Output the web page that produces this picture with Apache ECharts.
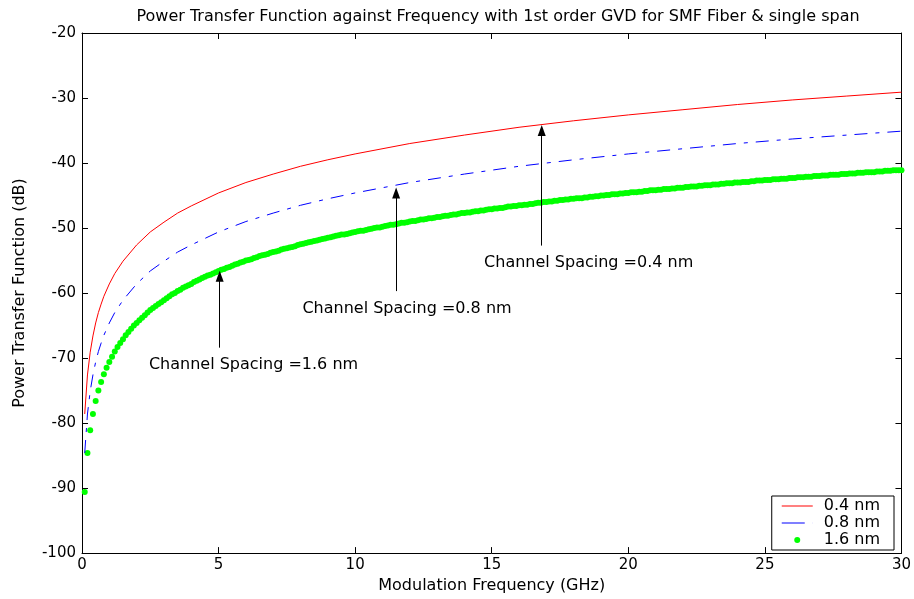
<!DOCTYPE html>
<html><head><meta charset="utf-8">
<script src="https://cdn.jsdelivr.net/npm/echarts@6/dist/echarts.min.js"></script>
<style>html,body{margin:0;padding:0;background:#fff}#c{width:914px;height:599px}</style>
</head><body><div id="c"></div>
<script>
const TITLE = 'Power Transfer Function against Frequency with 1st order GVD for SMF Fiber & single span';
const X_NAME = 'Modulation Frequency (GHz)';
const Y_NAME = 'Power Transfer Function (dB)';
const SERIES_NAMES = ['0.4 nm', '0.8 nm', '1.6 nm'];

// frequencies (GHz) sampled for the two line curves
const FREQ_LINES = [0.1,0.2,0.3,0.4,0.5,0.6,0.7,0.8,1.0,1.2,1.5,2,2.5,3,3.5,4,5,6,7,8,9,10,12,14,16,18,20,22,24,26,28,30];
const RED_04 = [-78.6,-72.6,-69.1,-66.6,-64.6,-63.0,-61.7,-60.5,-58.6,-57.0,-55.1,-52.6,-50.6,-49.1,-47.7,-46.6,-44.6,-43.0,-41.7,-40.5,-39.5,-38.6,-37.0,-35.7,-34.5,-33.5,-32.6,-31.8,-31.0,-30.3,-29.7,-29.1];
const BLUE_08 = [-84.6,-78.6,-75.1,-72.6,-70.6,-69.0,-67.7,-66.5,-64.6,-63.0,-61.1,-58.6,-56.6,-55.1,-53.7,-52.6,-50.6,-49.0,-47.7,-46.5,-45.5,-44.6,-43.0,-41.7,-40.5,-39.5,-38.6,-37.8,-37.0,-36.3,-35.7,-35.1];

// frequencies (GHz) of the dotted curve
const FREQ_DOTS = [
0.1,0.2,0.3,0.4,0.5,0.6,0.7,0.8,0.9,1.0,
1.1,1.2,1.3,1.4,1.5,1.6,1.7,1.8,1.9,2.0,
2.1,2.2,2.3,2.4,2.5,2.6,2.7,2.8,2.9,3.0,
3.1,3.2,3.3,3.4,3.5,3.6,3.7,3.8,3.9,4.0,
4.1,4.2,4.3,4.4,4.5,4.6,4.7,4.8,4.9,5.0,
5.1,5.2,5.3,5.4,5.5,5.6,5.7,5.8,5.9,6.0,
6.1,6.2,6.3,6.4,6.5,6.6,6.7,6.8,6.9,7.0,
7.1,7.2,7.3,7.4,7.5,7.6,7.7,7.8,7.9,8.0,
8.1,8.2,8.3,8.4,8.5,8.6,8.7,8.8,8.9,9.0,
9.1,9.2,9.3,9.4,9.5,9.6,9.7,9.8,9.9,10.0,
10.1,10.2,10.3,10.4,10.5,10.6,10.7,10.8,10.9,11.0,
11.1,11.2,11.3,11.4,11.5,11.6,11.7,11.8,11.9,12.0,
12.1,12.2,12.3,12.4,12.5,12.6,12.7,12.8,12.9,13.0,
13.1,13.2,13.3,13.4,13.5,13.6,13.7,13.8,13.9,14.0,
14.1,14.2,14.3,14.4,14.5,14.6,14.7,14.8,14.9,15.0,
15.1,15.2,15.3,15.4,15.5,15.6,15.7,15.8,15.9,16.0,
16.1,16.2,16.3,16.4,16.5,16.6,16.7,16.8,16.9,17.0,
17.1,17.2,17.3,17.4,17.5,17.6,17.7,17.8,17.9,18.0,
18.1,18.2,18.3,18.4,18.5,18.6,18.7,18.8,18.9,19.0,
19.1,19.2,19.3,19.4,19.5,19.6,19.7,19.8,19.9,20.0,
20.1,20.2,20.3,20.4,20.5,20.6,20.7,20.8,20.9,21.0,
21.1,21.2,21.3,21.4,21.5,21.6,21.7,21.8,21.9,22.0,
22.1,22.2,22.3,22.4,22.5,22.6,22.7,22.8,22.9,23.0,
23.1,23.2,23.3,23.4,23.5,23.6,23.7,23.8,23.9,24.0,
24.1,24.2,24.3,24.4,24.5,24.6,24.7,24.8,24.9,25.0,
25.1,25.2,25.3,25.4,25.5,25.6,25.7,25.8,25.9,26.0,
26.1,26.2,26.3,26.4,26.5,26.6,26.7,26.8,26.9,27.0,
27.1,27.2,27.3,27.4,27.5,27.6,27.7,27.8,27.9,28.0,
28.1,28.2,28.3,28.4,28.5,28.6,28.7,28.8,28.9,29.0,
29.1,29.2,29.3,29.4,29.5,29.6,29.7,29.8,29.9,30.0];
const GREEN_16 = [
-90.6,-84.6,-81.1,-78.6,-76.6,-75.0,-73.7,-72.5,-71.5,-70.6,
-69.8,-69.0,-68.3,-67.7,-67.1,-66.5,-66.0,-65.5,-65.0,-64.6,
-64.2,-63.8,-63.4,-63.0,-62.6,-62.3,-62.0,-61.7,-61.4,-61.1,
-60.8,-60.5,-60.2,-60.0,-59.7,-59.5,-59.2,-59.0,-58.8,-58.6,
-58.3,-58.1,-57.9,-57.7,-57.5,-57.3,-57.2,-57.0,-56.8,-56.6,
-56.4,-56.3,-56.1,-56.0,-55.8,-55.6,-55.5,-55.3,-55.2,-55.0,
-54.9,-54.8,-54.6,-54.5,-54.3,-54.2,-54.1,-54.0,-53.8,-53.7,
-53.6,-53.5,-53.3,-53.2,-53.1,-53.0,-52.9,-52.8,-52.6,-52.5,
-52.4,-52.3,-52.2,-52.1,-52.0,-51.9,-51.8,-51.7,-51.6,-51.5,
-51.4,-51.3,-51.2,-51.1,-51.0,-51.0,-50.9,-50.8,-50.7,-50.6,
-50.5,-50.4,-50.4,-50.3,-50.2,-50.1,-50.0,-49.9,-49.9,-49.8,
-49.7,-49.6,-49.5,-49.5,-49.4,-49.3,-49.2,-49.2,-49.1,-49.0,
-48.9,-48.9,-48.8,-48.7,-48.7,-48.6,-48.5,-48.5,-48.4,-48.3,
-48.3,-48.2,-48.1,-48.1,-48.0,-47.9,-47.9,-47.8,-47.7,-47.7,
-47.6,-47.6,-47.5,-47.4,-47.4,-47.3,-47.3,-47.2,-47.1,-47.1,
-47.0,-47.0,-46.9,-46.9,-46.8,-46.7,-46.7,-46.6,-46.6,-46.5,
-46.5,-46.4,-46.4,-46.3,-46.3,-46.2,-46.1,-46.1,-46.0,-46.0,
-45.9,-45.9,-45.8,-45.8,-45.7,-45.7,-45.6,-45.6,-45.5,-45.5,
-45.4,-45.4,-45.4,-45.3,-45.3,-45.2,-45.2,-45.1,-45.1,-45.0,
-45.0,-44.9,-44.9,-44.8,-44.8,-44.8,-44.7,-44.7,-44.6,-44.6,
-44.5,-44.5,-44.5,-44.4,-44.4,-44.3,-44.3,-44.2,-44.2,-44.2,
-44.1,-44.1,-44.0,-44.0,-44.0,-43.9,-43.9,-43.8,-43.8,-43.8,
-43.7,-43.7,-43.6,-43.6,-43.6,-43.5,-43.5,-43.4,-43.4,-43.4,
-43.3,-43.3,-43.3,-43.2,-43.2,-43.1,-43.1,-43.1,-43.0,-43.0,
-43.0,-42.9,-42.9,-42.9,-42.8,-42.8,-42.7,-42.7,-42.7,-42.6,
-42.6,-42.6,-42.5,-42.5,-42.5,-42.4,-42.4,-42.4,-42.3,-42.3,
-42.3,-42.2,-42.2,-42.2,-42.1,-42.1,-42.1,-42.0,-42.0,-42.0,
-41.9,-41.9,-41.9,-41.8,-41.8,-41.8,-41.8,-41.7,-41.7,-41.7,
-41.6,-41.6,-41.6,-41.5,-41.5,-41.5,-41.4,-41.4,-41.4,-41.4,
-41.3,-41.3,-41.3,-41.2,-41.2,-41.2,-41.1,-41.1,-41.1,-41.1];

// annotation arrows: x (GHz), tail and head (dB)
const ARROW_X    = [5.04, 11.5, 16.83];
const ARROW_TAIL = [-68.4, -59.7, -52.7];
const ARROW_HEAD = [-57.4, -44.6, -35.0];
const NOTE_TEXT  = ['Channel Spacing =1.6 nm', 'Channel Spacing =0.8 nm', 'Channel Spacing =0.4 nm'];
const NOTE_X     = [2.45, 8.07, 14.72];
const NOTE_Y     = [-71.1, -62.4, -55.4];

const FONT = 'DejaVu Sans';
const chart = echarts.init(document.getElementById('c'));
const pairs = (xs, ys) => xs.map((x, i) => [x, ys[i]]);

const axisCommon = {
  type: 'value',
  axisLine: { show: true, onZero: false, lineStyle: { color: '#000', width: 1 } },
  axisTick: { show: true, inside: true, length: 6, lineStyle: { color: '#000', width: 1 } },
  splitLine: { show: false },
  axisLabel: { show: false }
};
const labelStyle = { show: true, color: '#000', fontFamily: FONT, fontSize: 15, showMinLabel: true, showMaxLabel: true };
const nameStyle = { color: '#000', fontFamily: FONT, fontSize: 16 };

chart.setOption({
  animation: false,
  backgroundColor: '#fff',
  title: {
    text: TITLE, left: 493, top: 4, textAlign: 'center',
    textStyle: { color: '#000', fontFamily: FONT, fontSize: 16, fontWeight: 'normal' }
  },
  grid: { left: 82, right: 11, top: 33, bottom: 42, containLabel: false },
  xAxis: [
    Object.assign({}, axisCommon, {
      min: 0, max: 30, interval: 5, position: 'bottom',
      axisLabel: Object.assign({}, labelStyle, { margin: 5 }),
      name: X_NAME, nameLocation: 'middle', nameGap: 24, nameTextStyle: nameStyle
    }),
    Object.assign({}, axisCommon, { min: 0, max: 30, interval: 5, position: 'top' })
  ],
  yAxis: [
    Object.assign({}, axisCommon, {
      min: -100, max: -20, interval: 10, position: 'left',
      axisLabel: Object.assign({}, labelStyle, { margin: 6 }),
      name: Y_NAME, nameLocation: 'middle', nameGap: 54, nameTextStyle: nameStyle
    }),
    Object.assign({}, axisCommon, { min: -100, max: -20, interval: 10, position: 'right' })
  ],
  legend: {
    orient: 'vertical', right: 20, bottom: 49,
    backgroundColor: '#fff', borderColor: '#000', borderWidth: 1, borderRadius: 0,
    padding: [2, 14, 2, 10], itemGap: 1, itemWidth: 31, itemHeight: 6,
    textStyle: { color: '#000', fontFamily: FONT, fontSize: 16, lineHeight: 16, padding: [0, 0, 0, 6] },
    data: [
      { name: SERIES_NAMES[0], icon: 'path://M0,0H31V1H0Z' },
      { name: SERIES_NAMES[1], icon: 'path://M0,0H23V1H0Z M30.9,0H31V1H30.9Z' },
      { name: SERIES_NAMES[2], icon: 'circle' }
    ]
  },
  series: [
    {
      name: SERIES_NAMES[0], type: 'line', symbol: 'none', showSymbol: false,
      data: pairs(FREQ_LINES, RED_04),
      lineStyle: { color: '#ff0000', width: 1 }, itemStyle: { color: '#ff0000' },
      silent: true,
      markLine: {
        silent: true, animation: false,
        symbol: ['none', 'triangle'], symbolSize: [8, 11],
        lineStyle: { color: '#000', width: 1, type: 'solid' },
        label: { show: false },
        data: ARROW_X.map((x, i) => [
          { coord: [x, ARROW_TAIL[i]] },
          { coord: [x, ARROW_HEAD[i]] }
        ])
      }
    },
    {
      name: SERIES_NAMES[1], type: 'line', symbol: 'none', showSymbol: false,
      data: pairs(FREQ_LINES, BLUE_08),
      lineStyle: { color: '#0000ff', width: 1, type: [13, 8, 4, 8] }, itemStyle: { color: '#0000ff' },
      silent: true
    },
    {
      name: SERIES_NAMES[2], type: 'scatter', symbol: 'circle', symbolSize: 6,
      data: pairs(FREQ_DOTS, GREEN_16),
      itemStyle: { color: '#00ff00', opacity: 1 },
      silent: true
    }
  ]
});

const notes = NOTE_TEXT.map((t, i) => {
  const p = chart.convertToPixel({ gridIndex: 0 }, [NOTE_X[i], NOTE_Y[i]]);
  return {
    type: 'text', x: p[0], y: p[1], silent: true,
    style: { text: t, fill: '#000', font: '16px "' + FONT + '"', textAlign: 'left', textVerticalAlign: 'middle' }
  };
});
chart.setOption({ graphic: notes });
</script>
</body></html>
